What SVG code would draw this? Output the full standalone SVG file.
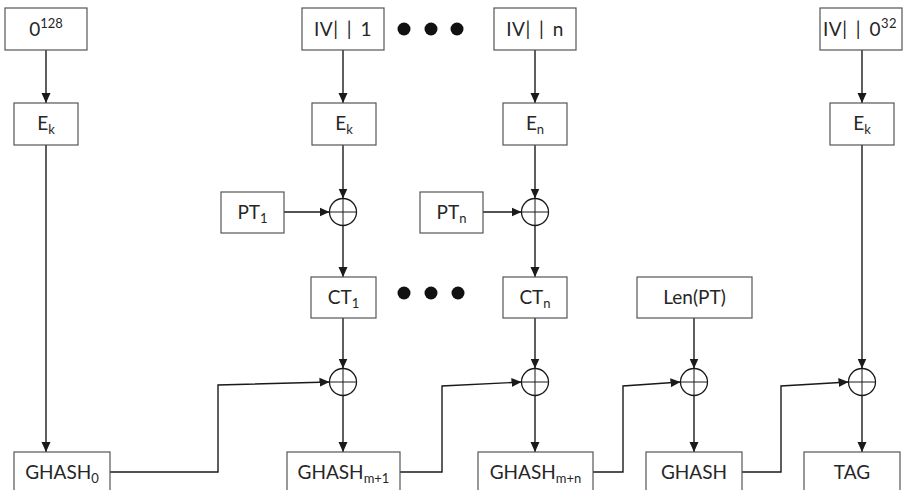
<svg xmlns="http://www.w3.org/2000/svg" width="905" height="490" viewBox="0 0 905 490">
  <defs>
    <marker id="ah" viewBox="0 0 10 10" refX="10" refY="5" markerWidth="10" markerHeight="10" markerUnits="userSpaceOnUse" orient="auto">
      <path d="M0,0.5 L10,5 L0,9.5 Z" fill="#1a1a1a"/>
    </marker>
    <g id="xor">
      <circle cx="0" cy="0" r="13.5" fill="#fff" stroke="#1a1a1a" stroke-width="1.3"/>
      <line x1="-13.5" y1="0" x2="13.5" y2="0" stroke="#1a1a1a" stroke-width="1"/>
      <line x1="0" y1="-13.5" x2="0" y2="13.5" stroke="#1a1a1a" stroke-width="1"/>
    </g>
  </defs>
  <style>
    .box { fill: #fff; stroke: #555; stroke-width: 1.2; }
    .lbl { font-family: Lato, "Open Sans", "Liberation Sans", sans-serif; font-size: 19px; fill: #262626; text-anchor: middle; }
    .iv { word-spacing: 3px; letter-spacing: 0.5px; }
    .sub { font-size: 13px; }
    .wire { fill: none; stroke: #1a1a1a; stroke-width: 1.4; }
    .arr { marker-end: url(#ah); }
    .dot { fill: #111; }
  </style>
  <rect width="905" height="490" fill="#fff"/>

  <!-- connectors -->
  <g id="connectors">
    <!-- column 1: zero block -->
    <line class="wire arr" x1="46" y1="50" x2="46" y2="103"/>
    <line class="wire arr" x1="46" y1="145" x2="46" y2="452"/>
    <!-- column 2: first counter block -->
    <line class="wire arr" x1="343" y1="50" x2="343" y2="103"/>
    <line class="wire arr" x1="343" y1="145" x2="343" y2="198.5"/>
    <line class="wire arr" x1="284" y1="212" x2="329.5" y2="212"/>
    <line class="wire arr" x1="343" y1="225.5" x2="343" y2="277"/>
    <line class="wire arr" x1="343" y1="318" x2="343" y2="368.5"/>
    <line class="wire arr" x1="343" y1="395.5" x2="343" y2="452"/>
    <polyline class="wire arr" points="110,472 218,472 218,385 329.5,382"/>
    <!-- column 3: last counter block -->
    <line class="wire arr" x1="535" y1="50" x2="535" y2="103"/>
    <line class="wire arr" x1="535" y1="145" x2="535" y2="198.5"/>
    <line class="wire arr" x1="483" y1="212" x2="521.5" y2="212"/>
    <line class="wire arr" x1="535" y1="225.5" x2="535" y2="277"/>
    <line class="wire arr" x1="535" y1="318" x2="535" y2="368.5"/>
    <line class="wire arr" x1="535" y1="395.5" x2="535" y2="452"/>
    <polyline class="wire arr" points="400,472 442,472 442,386 521.5,382"/>
    <!-- column 4: length block -->
    <line class="wire arr" x1="694" y1="318" x2="694" y2="368.5"/>
    <line class="wire arr" x1="694" y1="395.5" x2="694" y2="452"/>
    <polyline class="wire arr" points="593,472 623,472 623,386 680.5,382"/>
    <!-- column 5: tag -->
    <line class="wire arr" x1="862" y1="50" x2="862" y2="103"/>
    <line class="wire arr" x1="862" y1="145" x2="862" y2="368.5"/>
    <line class="wire arr" x1="862" y1="395.5" x2="862" y2="452"/>
    <polyline class="wire arr" points="742,472 781,472 781,386 848.5,382"/>
  </g>

  <!-- column 1 -->
  <g id="zero">
    <rect class="box" x="5" y="8" width="82" height="42"/>
    <text class="lbl" x="46" y="36">0<tspan class="sub" dy="-8">128</tspan></text>
  </g>
  <g id="ek0">
    <rect class="box" x="14" y="103" width="64" height="42"/>
    <text class="lbl" x="46" y="130">E<tspan class="sub" dy="4">k</tspan></text>
  </g>
  <g id="ghash0">
    <rect class="box" x="14" y="452" width="96" height="44"/>
    <text class="lbl" x="62" y="479">GHASH<tspan class="sub" dy="4">0</tspan></text>
  </g>

  <!-- column 2 -->
  <g id="iv1">
    <rect class="box" x="302" y="8" width="82" height="42"/>
    <text class="lbl iv" x="343" y="36">IV| | 1</text>
  </g>
  <g id="ek1">
    <rect class="box" x="312" y="103" width="64" height="42"/>
    <text class="lbl" x="344" y="130">E<tspan class="sub" dy="4">k</tspan></text>
  </g>
  <g id="pt1">
    <rect class="box" x="221" y="192" width="63" height="41"/>
    <text class="lbl" x="252.5" y="219">PT<tspan class="sub" dy="4">1</tspan></text>
  </g>
  <g id="xor1"><use href="#xor" x="343" y="212"/></g>
  <g id="ct1">
    <rect class="box" x="311" y="277" width="65" height="41"/>
    <text class="lbl" x="343.5" y="304">CT<tspan class="sub" dy="4">1</tspan></text>
  </g>
  <g id="xor2"><use href="#xor" x="343" y="382"/></g>
  <g id="ghash1">
    <rect class="box" x="287" y="452" width="113" height="44"/>
    <text class="lbl" x="343.5" y="479">GHASH<tspan class="sub" dy="4">m+1</tspan></text>
  </g>

  <!-- ellipsis dots -->
  <g id="dots-top" class="dot">
    <circle cx="404" cy="29" r="6.5"/>
    <circle cx="431" cy="29" r="6.5"/>
    <circle cx="457" cy="29" r="6.5"/>
  </g>
  <g id="dots-mid" class="dot">
    <circle cx="404" cy="293" r="6.5"/>
    <circle cx="431" cy="293" r="6.5"/>
    <circle cx="458" cy="293" r="6.5"/>
  </g>

  <!-- column 3 -->
  <g id="ivn">
    <rect class="box" x="494" y="8" width="82" height="42"/>
    <text class="lbl iv" x="535" y="36">IV| | n</text>
  </g>
  <g id="en">
    <rect class="box" x="503" y="103" width="64" height="42"/>
    <text class="lbl" x="535" y="130">E<tspan class="sub" dy="4">n</tspan></text>
  </g>
  <g id="ptn">
    <rect class="box" x="420" y="192" width="63" height="41"/>
    <text class="lbl" x="451.5" y="219">PT<tspan class="sub" dy="4">n</tspan></text>
  </g>
  <g id="xor3"><use href="#xor" x="535" y="212"/></g>
  <g id="ctn">
    <rect class="box" x="503" y="277" width="64" height="41"/>
    <text class="lbl" x="535" y="304">CT<tspan class="sub" dy="4">n</tspan></text>
  </g>
  <g id="xor4"><use href="#xor" x="535" y="382"/></g>
  <g id="ghashn">
    <rect class="box" x="478" y="452" width="115" height="44"/>
    <text class="lbl" x="535.5" y="479">GHASH<tspan class="sub" dy="4">m+n</tspan></text>
  </g>

  <!-- column 4 -->
  <g id="len">
    <rect class="box" x="637" y="277" width="115" height="41"/>
    <text class="lbl" x="694.5" y="304">Len(PT)</text>
  </g>
  <g id="xor5"><use href="#xor" x="694" y="382"/></g>
  <g id="ghash">
    <rect class="box" x="646" y="452" width="96" height="44"/>
    <text class="lbl" x="694" y="479">GHASH</text>
  </g>

  <!-- column 5 -->
  <g id="iv0">
    <rect class="box" x="820" y="8" width="82" height="42"/>
    <text class="lbl iv" x="860" y="36">IV| | 0<tspan class="sub" dy="-8">32</tspan></text>
  </g>
  <g id="ekt">
    <rect class="box" x="830" y="103" width="64" height="42"/>
    <text class="lbl" x="862" y="130">E<tspan class="sub" dy="4">k</tspan></text>
  </g>
  <g id="xor6"><use href="#xor" x="862" y="382"/></g>
  <g id="tag">
    <rect class="box" x="804" y="452" width="96" height="44"/>
    <text class="lbl" x="852" y="479">TAG</text>
  </g>
</svg>
